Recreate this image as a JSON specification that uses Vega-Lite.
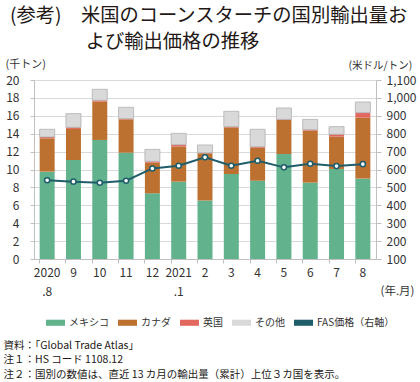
{
  "$schema": "https://vega.github.io/schema/vega-lite/v6.json",
  "width": 342,
  "height": 179,
  "autosize": "none",
  "padding": {"left": 34, "top": 80, "right": 44, "bottom": 123},
  "background": "white",
  "config": {
    "font": "Noto Sans CJK JP",
    "view": {"stroke": null},
    "axis": {"labelFont": "Noto Sans CJK JP", "titleFont": "Noto Sans CJK JP", "labelColor": "#333333", "titleColor": "#333333", "titleFontWeight": "normal", "domainColor": "#bfbfbf", "tickColor": "#bfbfbf", "gridColor": "#d9d9d9"}
  },
  "title": {
    "text": ["(参考)\u3000米国のコーンスターチの国別輸出量お", "\u2800\u3000\u3000\u3000\u2009よび輸出価格の推移"],
    "anchor": "start",
    "frame": "group",
    "dx": -24,
    "fontSize": 19.3,
    "fontWeight": "normal",
    "lineHeight": 26,
    "color": "#231815",
    "offset": 6
  },
  "datasets": {
    "ranks": [
      {"series": "メキシコ", "rank": 1},
      {"series": "カナダ", "rank": 2},
      {"series": "英国", "rank": 3},
      {"series": "その他", "rank": 4}
    ],
    "main": [
      {"month": "2020|.8", "メキシコ": 9.76, "カナダ": 3.72, "英国": 0.15, "その他": 0.86, "price": 540},
      {"month": "9", "メキシコ": 11.06, "カナダ": 3.47, "英国": 0.18, "その他": 1.53, "price": 532},
      {"month": "10", "メキシコ": 13.3, "カナダ": 4.28, "英国": 0.15, "その他": 1.23, "price": 526},
      {"month": "11", "メキシコ": 11.88, "カナダ": 3.72, "英国": 0.08, "その他": 1.27, "price": 537},
      {"month": "12", "メキシコ": 7.34, "カナダ": 3.42, "英国": 0.15, "その他": 1.34, "price": 606},
      {"month": "2021|.1", "メキシコ": 8.64, "カナダ": 3.91, "英国": 0.22, "その他": 1.27, "price": 621},
      {"month": "2", "メキシコ": 6.55, "カナダ": 5.26, "英国": 0.05, "その他": 0.88, "price": 668},
      {"month": "3", "メキシコ": 9.5, "カナダ": 5.21, "英国": 0.08, "その他": 1.71, "price": 621},
      {"month": "4", "メキシコ": 8.75, "カナダ": 3.69, "英国": 0.11, "その他": 1.94, "price": 649},
      {"month": "5", "メキシコ": 11.73, "カナダ": 3.8, "英国": 0.07, "その他": 1.27, "price": 612},
      {"month": "6", "メキシコ": 8.53, "カナダ": 5.81, "英国": 0.11, "その他": 1.15, "price": 632},
      {"month": "7", "メキシコ": 10.06, "カナダ": 3.61, "英国": 0.26, "その他": 0.86, "price": 619},
      {"month": "8", "メキシコ": 8.98, "カナダ": 6.81, "英国": 0.56, "その他": 1.19, "price": 630}
    ]
  },
  "data": {"name": "main"},
  "layer": [
    {
      "transform": [
        {"fold": ["メキシコ", "カナダ", "英国", "その他"], "as": ["series", "value"]},
        {"lookup": "series", "from": {"data": {"name": "ranks"}, "key": "series", "fields": ["rank"]}}
      ],
      "mark": {"type": "bar", "strokeWidth": 0.8},
      "encoding": {
        "x": {
          "field": "month", "type": "nominal", "sort": null,
          "scale": {"paddingInner": 0.43, "paddingOuter": 0.215},
          "axis": {
            "labelExpr": "split(datum.label, '|')",
            "labelAngle": 0, "labelFontSize": 12, "labelLineHeight": 19, "labelPadding": 8,
            "ticks": false, "domain": true,
            "title": "(年.月)", "titleFontSize": 11.5, "titleAlign": "left", "titleAnchor": "start",
            "titleX": 346, "titleY": 32, "titleBaseline": "middle", "titleAngle": 0
          }
        },
        "y": {
          "field": "value", "type": "quantitative", "stack": "zero",
          "scale": {"domain": [0, 20], "nice": false},
          "axis": {
            "values": [0, 2, 4, 6, 8, 10, 12, 14, 16, 18, 20],
            "labelFontSize": 12, "labelPadding": 11, "tickSize": 4,
            "title": "(千トン)", "titleFontSize": 11, "titleAngle": 0, "titleAlign": "left",
            "titleX": -29, "titleY": -16, "titleBaseline": "middle"
          }
        },
        "order": {"field": "rank", "type": "quantitative", "sort": "ascending"},
        "stroke": {"condition": {"test": "datum.series === 'その他'", "value": "#b0b0b0"}, "value": null},
        "color": {
          "field": "series", "type": "nominal",
          "scale": {
            "domain": ["メキシコ", "カナダ", "英国", "その他", "FAS価格（右軸）"],
            "range": ["#62b28e", "#bd7130", "#e2685f", "#d9d9d9", "#1f5d6b"]
          },
          "legend": {
            "orient": "none", "legendX": 11, "legendY": 232, "direction": "horizontal",
            "title": null, "labelFontSize": 10, "labelColor": "#333333", "labelOffset": 3,
            "columnPadding": 8, "symbolSize": 361,
            "symbolType": "M-1,-0.32H1V0.32H-1Z",
            "encode": {
              "symbols": {
                "shape": {"value": {"expr": "datum.value === 'FAS価格（右軸）' ? 'M-1,0H-0.3M0.3,0H1M-0.3,0A0.3,0.3 0 1 1 0.3,0A0.3,0.3 0 1 1 -0.3,0' : 'M-1,-0.32H1V0.32H-1Z'"}},
                "fill": {"value": {"expr": "datum.value === 'FAS価格（右軸）' ? 'white' : scale('color', datum.value)"}},
                "stroke": {"value": {"expr": "datum.value === 'FAS価格（右軸）' ? '#1f5d6b' : (datum.value === 'その他' ? '#b0b0b0' : 'transparent')"}},
                "strokeWidth": {"value": {"expr": "datum.value === 'FAS価格（右軸）' ? 1.8 : 0.8"}},
                "opacity": {"value": 1}
              }
            }
          }
        }
      }
    },
    {
      "mark": {"type": "line", "color": "#1f5d6b", "strokeWidth": 2, "point": {"filled": false, "fill": "white", "stroke": "#1f5d6b", "strokeWidth": 1.5, "size": 26}},
      "encoding": {
        "x": {
          "field": "month", "type": "nominal", "sort": null,
          "axis": {
            "orient": "bottom", "labels": false, "domain": false, "grid": false,
            "ticks": true, "tickSize": 4, "bandPosition": 0,
            "title": ["資料：「Global Trade Atlas」", "注１：HS コード 1108.12", "注２：国別の数値は、直近 13 カ月の輸出量（累計）上位３カ国を表示。"],
            "titleFontSize": 10.5, "titleLineHeight": 14.5, "titleAlign": "left", "titleAnchor": "start",
            "titleX": -31, "titleY": 81, "titleBaseline": "top", "titleAngle": 0, "titleColor": "#231815"
          }
        },
        "y": {
          "field": "price", "type": "quantitative",
          "scale": {"domain": [100, 1100], "nice": false},
          "axis": {
            "orient": "right", "grid": false,
            "values": [100, 200, 300, 400, 500, 600, 700, 800, 900, 1000, 1100],
            "format": ",.0f", "labelFontSize": 12, "labelPadding": 5, "tickSize": 5,
            "title": "(米ドル/トン)", "titleFontSize": 10.5, "titleAngle": 0, "titleAlign": "left",
            "titleX": -28, "titleY": -15, "titleBaseline": "middle"
          }
        }
      }
    }
  ],
  "resolve": {"scale": {"y": "independent"}, "axis": {"x": "independent"}}
}
